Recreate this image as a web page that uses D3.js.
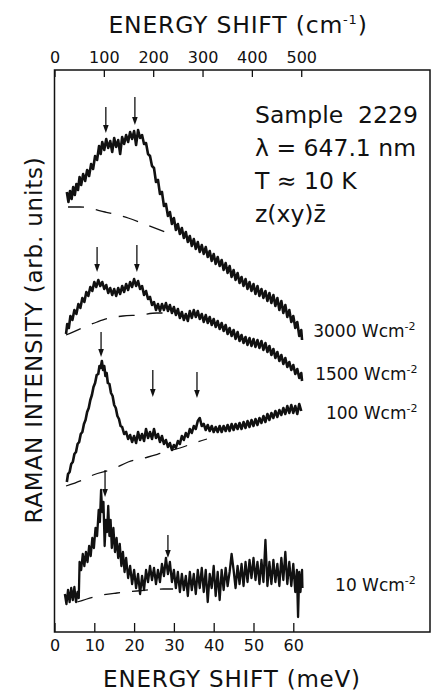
<!DOCTYPE html>
<html>
<head>
<meta charset="utf-8">
<script src="https://cdn.jsdelivr.net/npm/d3@7/dist/d3.min.js"></script>
<style>
body { margin: 0; background: #fff; }
text { font-family: 'DejaVu Sans', sans-serif; fill: #111; }
</style>
</head>
<body>
<svg id="chart"></svg>
<script>
// energy shift in meV, intensity in arbitrary units
const meVTicks = [0, 10, 20, 30, 40, 50, 60];
const cmTicks = [0, 100, 200, 300, 400, 500];
const MEV_TO_CM = 8.0655;

const spec3000 = [[3.1,440],[3.5,430],[3.9,441],[4.3,433],[4.7,445],[5.1,437],[5.5,448],[5.9,442],[6.3,455],[6.7,447],[7.2,458],[7.7,451],[8.2,462],[8.7,456],[9.2,468],[9.7,463],[10.2,476],[10.7,472],[11.2,486],[11.6,478],[12.0,490],[12.5,482],[13.0,493],[13.5,484],[14.0,491],[14.5,480],[15.0,494],[15.5,485],[16.0,492],[16.5,478],[17.0,495],[17.5,488],[18.0,497],[18.5,490],[19.0,500],[19.5,493],[20.0,501],[20.5,487],[21.0,502],[21.5,494],[22.0,497],[22.5,488],[23.0,489],[23.5,478],[24.0,476],[24.5,466],[25.0,464],[25.5,450],[26.0,452],[26.5,438],[27.0,440],[27.5,426],[28.0,428],[28.5,416],[29.0,420],[29.5,408],[30.0,414],[30.5,402],[31.0,408],[31.5,398],[32.0,404],[32.5,394],[33.0,400],[33.5,390],[34.0,396],[34.5,386],[35.0,393],[35.5,383],[36.0,390],[36.5,380],[37.0,387],[37.5,378],[38.0,385],[38.5,375],[39.0,381],[39.5,371],[40.0,378],[40.5,368],[41.0,375],[41.5,366],[42.0,372],[42.5,362],[43.0,369],[43.5,359],[44.0,366],[44.5,355],[45.0,362],[45.5,352],[46.0,359],[46.5,349],[47.0,355],[47.5,346],[48.0,353],[48.5,343],[49.0,350],[49.5,341],[50.0,348],[50.5,338],[51.0,346],[51.5,336],[52.0,343],[52.5,334],[53.0,341],[53.5,331],[54.0,339],[54.5,329],[55.0,337],[55.5,326],[56.0,334],[56.5,322],[57.0,331],[57.5,319],[58.0,327],[58.5,315],[59.0,322],[59.5,310],[60.0,316],[60.5,304],[61.0,310],[61.5,296],[62.0,302],[62.2,292]];

const spec1500 = [[2.9,298],[3.2,308],[3.6,304],[4.0,316],[4.5,312],[5.0,322],[5.5,318],[6.0,328],[6.5,324],[7.0,334],[7.5,330],[8.0,340],[8.5,336],[9.0,345],[9.5,341],[10.0,350],[10.5,345],[11.0,352],[11.5,346],[12.0,350],[12.5,343],[13.0,347],[13.5,339],[14.0,344],[14.5,337],[15.0,343],[15.5,336],[16.0,344],[16.5,338],[17.0,346],[17.5,340],[18.0,348],[18.5,342],[19.0,350],[19.5,345],[20.0,353],[20.5,346],[21.0,351],[21.5,343],[22.0,346],[22.5,337],[23.0,341],[23.5,333],[24.0,335],[24.5,327],[25.0,330],[25.5,322],[26.0,328],[26.5,321],[27.0,328],[27.5,322],[28.0,329],[28.5,321],[29.0,327],[29.5,319],[30.0,325],[30.5,317],[31.0,323],[31.5,314],[32.0,320],[32.5,312],[33.0,318],[33.5,311],[34.0,321],[34.5,314],[35.0,322],[35.5,315],[36.0,321],[36.5,313],[37.0,318],[37.5,310],[38.0,317],[38.5,309],[39.0,315],[39.5,307],[40.0,313],[40.5,305],[41.0,311],[41.5,303],[42.0,309],[42.5,301],[43.0,307],[43.5,298],[44.0,304],[44.5,296],[45.0,302],[45.5,293],[46.0,300],[46.5,291],[47.0,297],[47.5,289],[48.0,295],[48.5,287],[49.0,294],[49.5,286],[50.0,293],[50.5,285],[51.0,292],[51.5,284],[52.0,291],[52.5,282],[53.0,289],[53.5,280],[54.0,286],[54.5,277],[55.0,283],[55.5,274],[56.0,280],[56.5,271],[57.0,277],[57.5,268],[58.0,274],[58.5,265],[59.0,270],[59.5,262],[60.0,267],[60.5,258],[61.0,263],[61.5,254],[62.0,259],[62.2,251]];

const spec100 = [[3.1,150],[3.4,158],[3.8,160],[4.2,168],[4.6,170],[5.0,178],[5.4,180],[5.8,188],[6.2,190],[6.6,198],[7.0,200],[7.4,208],[7.8,212],[8.2,220],[8.6,224],[9.0,232],[9.4,237],[9.8,245],[10.2,249],[10.6,257],[11.0,258],[11.3,266],[11.6,264],[11.9,271],[12.2,262],[12.5,266],[12.8,256],[13.1,259],[13.4,249],[13.8,248],[14.2,239],[14.6,236],[15.0,227],[15.4,224],[15.8,216],[16.2,213],[16.6,206],[17.0,205],[17.5,198],[18.0,200],[18.5,193],[19.0,197],[19.5,190],[20.0,196],[20.5,189],[21.0,200],[21.5,192],[22.0,198],[22.5,191],[23.0,203],[23.5,194],[24.0,200],[24.5,193],[25.0,203],[25.5,194],[26.0,198],[26.5,190],[27.0,196],[27.5,188],[28.0,192],[28.5,185],[29.0,189],[29.5,182],[30.0,187],[30.5,184],[31.0,191],[31.5,188],[32.0,196],[32.5,192],[33.0,199],[33.5,195],[34.0,203],[34.5,199],[35.0,206],[35.5,203],[36.0,211],[36.5,214],[37.0,206],[37.5,208],[38.0,202],[38.5,207],[39.0,201],[39.5,206],[40.0,200],[40.5,205],[41.0,200],[41.5,206],[42.0,200],[42.5,206],[43.0,201],[43.5,207],[44.0,201],[44.5,208],[45.0,202],[45.5,208],[46.0,203],[46.5,209],[47.0,203],[47.5,210],[48.0,204],[48.5,211],[49.0,205],[49.5,212],[50.0,206],[50.5,213],[51.0,207],[51.5,214],[52.0,209],[52.5,216],[53.0,210],[53.5,218],[54.0,212],[54.5,219],[55.0,214],[55.5,221],[56.0,215],[56.5,222],[57.0,217],[57.5,224],[58.0,218],[58.5,226],[59.0,219],[59.5,227],[60.0,219],[60.5,226],[61.0,218],[61.5,228],[62.0,221]];

const spec10 = [[2.6,38],[3.0,28],[3.4,42],[3.8,30],[4.2,44],[4.6,32],[5.0,45],[5.4,30],[5.8,40],[6.1,34],[6.3,70],[6.7,62],[7.1,78],[7.5,66],[7.9,80],[8.3,70],[8.7,86],[9.1,76],[9.5,94],[9.9,84],[10.3,104],[10.7,96],[11.1,122],[11.4,110],[11.7,142],[12.0,120],[12.3,130],[12.6,86],[12.9,112],[13.2,100],[13.5,126],[13.8,96],[14.1,112],[14.4,84],[14.8,104],[15.2,80],[15.6,94],[16.0,74],[16.4,88],[16.8,66],[17.2,80],[17.6,60],[18.0,74],[18.5,54],[19.0,66],[19.5,48],[20.0,62],[20.5,44],[21.0,58],[21.5,38],[22.0,56],[22.5,42],[23.0,62],[23.5,50],[24.0,66],[24.5,52],[25.0,64],[25.5,48],[26.0,62],[26.5,50],[27.0,68],[27.5,56],[28.0,74],[28.5,58],[29.0,70],[29.5,50],[30.0,62],[30.5,44],[31.0,60],[31.5,40],[32.0,58],[32.5,42],[33.0,56],[33.5,36],[34.0,60],[34.5,42],[35.0,58],[35.5,38],[36.0,62],[36.5,44],[37.0,64],[37.5,40],[38.0,62],[38.5,30],[39.0,58],[39.5,44],[40.0,66],[40.5,36],[41.0,60],[41.5,32],[42.0,62],[42.5,42],[43.0,64],[43.5,46],[44.0,60],[44.5,78],[45.0,62],[45.5,44],[46.0,66],[46.5,48],[47.0,68],[47.5,46],[48.0,70],[48.5,50],[49.0,72],[49.5,54],[50.0,74],[50.5,52],[51.0,70],[51.5,48],[52.0,72],[52.5,50],[53.0,92],[53.5,46],[54.0,70],[54.5,48],[55.0,72],[55.5,50],[56.0,68],[56.5,46],[57.0,74],[57.5,52],[58.0,80],[58.5,48],[59.0,70],[59.5,46],[60.0,68],[60.5,40],[60.9,62],[61.2,15],[61.5,60],[61.8,40],[62.2,62],[62.3,44]];

// dashed background lines
const base3000 = [[3.4,425],[6.4,425],[12.7,420],[18.5,414],[23.2,407],[28.5,399]];
const base1500 = [[2.9,297],[6.9,304],[10.7,310],[13.9,314],[17.2,316],[21.5,317],[25.7,319],[29.5,319]];
const base100 = [[2.9,146],[7.0,152],[9.7,157],[14.7,163],[18.5,170],[23.5,175],[27.8,180],[31.5,184],[35.8,190],[38.3,193]];
const base10 = [[5.7,30],[12.0,37],[15.7,39],[20.7,41],[27.3,43],[29.8,43]];

// arrows: [meV, tail intensity, tip intensity]
const arrows3000 = [[12.9,525,499],[20.2,535,507]];
const arrows1500 = [[10.7,385,360],[20.7,387,360]];
const arrows100 = [[11.7,300,275],[24.7,262,235],[35.8,260,234]];
const arrows10 = [[12.7,162,135],[28.5,97,74]];

const powers = ['3000', '1500', '100', '10'];
const sampleLines = ['Sample  2229', 'λ = 647.1 nm', 'T ≈ 10 K', 'z(xy)z\u0304'];

class RamanChart {
    constructor (config) {
        this.config = {
            parent: config.parent,
            width: config.width || 432,
            height: config.height || 695,
            frame: config.frame
        };
        this.init();
    }

    init() {
        let self = this;
        let f = self.config.frame;

        self.svg = d3.select(self.config.parent)
            .attr('width', self.config.width)
            .attr('height', self.config.height);

        self.x = d3.scaleLinear().domain([0, 94.35]).range([f.left, f.right]);
        self.xcm = d3.scaleLinear().domain([0, 94.35 * MEV_TO_CM]).range([f.left, f.right]);
        self.y = d3.scaleLinear().domain([0, 562]).range([f.bottom, f.top]);

        self.line = d3.line().x(d => self.x(d[0])).y(d => self.y(d[1]));
        self.smooth = d3.line().x(d => self.x(d[0])).y(d => self.y(d[1])).curve(d3.curveMonotoneX);
    }

    render() {
        let self = this;
        let f = self.config.frame;

        // axes
        let bottom = self.svg.append('g')
            .attr('transform', `translate(0,${f.bottom})`)
            .call(d3.axisBottom(self.x).tickValues(meVTicks).tickSize(-9).tickPadding(8));
        let top = self.svg.append('g')
            .attr('transform', `translate(0,${f.top})`)
            .call(d3.axisTop(self.xcm).tickValues(cmTicks).tickSize(-7).tickPadding(7));
        [bottom, top].forEach(g => {
            g.select('.domain').remove();
            g.selectAll('line').attr('stroke', '#111').attr('stroke-width', 1.3);
            g.selectAll('text').style('font-size', '16px').attr('fill', '#111')
                .style('font-family', "'DejaVu Sans', sans-serif");
        });

        self.svg.append('rect')
            .attr('x', f.left).attr('y', f.top)
            .attr('width', f.right - f.left).attr('height', f.bottom - f.top)
            .attr('fill', 'none').attr('stroke', '#111').attr('stroke-width', 1.5);

        // spectra
        [spec3000, spec1500, spec100].forEach(s => {
            self.svg.append('path').datum(s)
                .attr('d', self.line)
                .attr('fill', 'none').attr('stroke', '#111')
                .attr('stroke-width', 2.6).attr('stroke-linejoin', 'round');
        });
        self.svg.append('path').datum(spec10)
            .attr('d', self.line)
            .attr('fill', 'none').attr('stroke', '#111')
            .attr('stroke-width', 2.3).attr('stroke-linejoin', 'round');

        [base3000, base1500, base100, base10].forEach(b => {
            self.svg.append('path').datum(b)
                .attr('d', self.smooth)
                .attr('fill', 'none').attr('stroke', '#111')
                .attr('stroke-width', 1.3).attr('stroke-dasharray', '16,12');
        });

        // arrows
        let allArrows = [].concat(arrows3000, arrows1500, arrows100, arrows10);
        let ag = self.svg.append('g').selectAll('g').data(allArrows).enter().append('g');
        ag.append('line')
            .attr('x1', d => self.x(d[0])).attr('x2', d => self.x(d[0]))
            .attr('y1', d => self.y(d[1])).attr('y2', d => self.y(d[2]) - 4)
            .attr('stroke', '#111').attr('stroke-width', 1.3);
        ag.append('path')
            .attr('d', d => {
                let px = self.x(d[0]), py = self.y(d[2]);
                return `M${px},${py} L${px - 2.8},${py - 8} L${px + 2.8},${py - 8} Z`;
            })
            .attr('fill', '#111');

        // power labels (meV, intensity of baseline)
        let labelPos = [[65.0, 295], [65.5, 252], [68.2, 213], [70.5, 41]];
        let pl = self.svg.append('g').selectAll('text').data(powers).enter().append('text')
            .attr('x', (d, i) => self.x(labelPos[i][0]))
            .attr('y', (d, i) => self.y(labelPos[i][1]))
            .style('font-size', '17px');
        pl.append('tspan').text(d => d + ' Wcm');
        pl.append('tspan').attr('dy', -7).style('font-size', '11px').text('-2');

        // sample info
        self.svg.append('g').selectAll('text').data(sampleLines).enter().append('text')
            .attr('x', 255)
            .attr('y', (d, i) => 123 + i * 33)
            .style('font-size', '23.5px')
            .style('white-space', 'pre')
            .text(d => d);

        // titles
        let tt = self.svg.append('text')
            .attr('x', 238).attr('y', 33)
            .attr('text-anchor', 'middle')
            .style('font-size', '23.5px').style('letter-spacing', '0.8px');
        tt.append('tspan').text('ENERGY SHIFT (cm');
        tt.append('tspan').attr('dy', -9).style('font-size', '13px').text('-1');
        tt.append('tspan').attr('dy', 9).text(')');

        self.svg.append('text')
            .attr('x', 232).attr('y', 687)
            .attr('text-anchor', 'middle')
            .style('font-size', '23px').style('letter-spacing', '0.8px')
            .text('ENERGY SHIFT (meV)');

        self.svg.append('text')
            .attr('transform', 'translate(42,340) rotate(-90)')
            .attr('text-anchor', 'middle')
            .style('font-size', '23px').style('letter-spacing', '0.8px')
            .text('RAMAN INTENSITY (arb. units)');
    }
}

let chart = new RamanChart({
    parent: '#chart',
    width: 432,
    height: 695,
    frame: {left: 54.5, right: 430, top: 70, bottom: 632}
});
chart.render();
</script>
</body>
</html>
